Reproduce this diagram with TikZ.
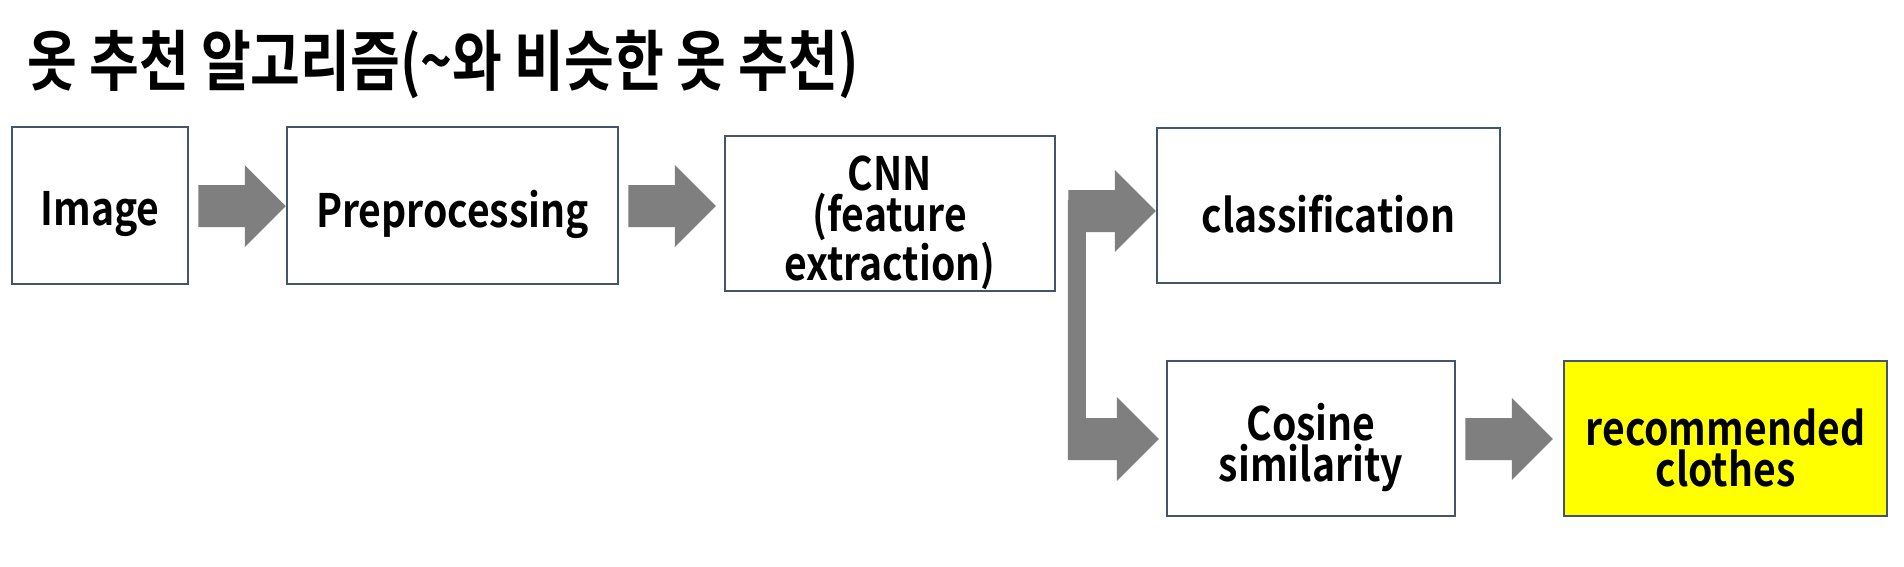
\documentclass[tikz,border=0pt]{standalone}
\usepackage{fontspec}
\usetikzlibrary{calc}
\newfontfamily\boxfont[FakeStretch=0.85]{Noto Sans CJK KR Bold}
\newfontfamily\titlefont[FakeStretch=0.82]{Noto Sans CJK KR Bold}
\definecolor{boxline}{HTML}{44546A}
\definecolor{arrgray}{HTML}{7F7F7F}
\definecolor{recyellow}{HTML}{FFFF00}
\newcommand\barrow[2]{\fill[arrowfill] let \p1=#1, \p2=#2 in
  (\x1,\y1+21pt) -- (\x2-41pt,\y1+21pt) -- (\x2-41pt,\y1+41pt) -- (\x2,\y1) --
  (\x2-41pt,\y1-41pt) -- (\x2-41pt,\y1-21pt) -- (\x1,\y1-21pt) -- cycle;}
\begin{document}
\begin{tikzpicture}[x=1pt,y=-1pt,
  box/.style={draw=boxline, line width=2.5pt, fill=white, inner sep=0pt,
    minimum height=155pt},
  boxtext/.style={inner sep=0pt, align=center, font={\boxfont\fontsize{46}{41}\selectfont}},
  arrowfill/.style={fill=arrgray}]
\useasboundingbox[fill=white] (0,0) rectangle (1904,566);
\node[anchor=base west, inner sep=0pt, font={\titlefont\fontsize{66}{68}\selectfont}] (title) at (27,85)
  {옷 추천 알고리즘(\textasciitilde 와 비슷한 옷 추천)};
\node[box, minimum width=176pt, minimum height=157pt] (img) at (100,205.5) {};
\node[box, minimum width=331pt, minimum height=157pt] (prep) at (452.5,205.5) {};
\node[box, minimum width=330pt] (cnn) at (890,213.5) {};
\node[box, minimum width=343pt] (cls) at (1328.5,205.5) {};
\node[box, minimum width=288pt] (cos) at (1311,438.5) {};
\node[box, minimum width=323pt, fill=recyellow] (rec) at (1725.5,438.5) {};
\node[boxtext] (imgt) at ($(img.center)+(0,9)$) {Image};
\node[boxtext] (prept) at ($(prep.center)+(0,9)$) {Preprocessing};
\node[boxtext] (cnnt) at ($(cnn.center)+(0,9)$) {CNN\\(feature\\extraction)};
\node[boxtext] (clst) at ($(cls.center)+(0,9)$) {classification};
\node[boxtext] (cost) at ($(cos.center)+(0,9)$) {Cosine\\similarity};
\node[boxtext] (rect) at ($(rec.center)+(0,9)$) {recommended\\clothes};
\barrow{($(img.east)+(9,0.5)$)}{(prep.west)}
\barrow{($(prep.east)+(9,0.5)$)}{($(cnn.west)+(-8,0)$)}
\barrow{($(cnn.east)+(12,-2.5)$)}{(cls.west)}
\barrow{($(cos.east)+(9,0.5)$)}{($(rec.west)+(-10,0)$)}
\coordinate (bt) at ($(cos.west)+(-7,0.5)$);
\fill[arrowfill] ($(bt)+(-91,-239)$) -- ($(bt)+(-73,-239)$) -- ($(bt)+(-73,-21)$) --
  ($(bt)+(-42,-21)$) -- ($(bt)+(-42,-42)$) -- (bt) -- ($(bt)+(-42,42)$) --
  ($(bt)+(-42,21)$) -- ($(bt)+(-91,21)$) -- cycle;
\end{tikzpicture}
\end{document}
